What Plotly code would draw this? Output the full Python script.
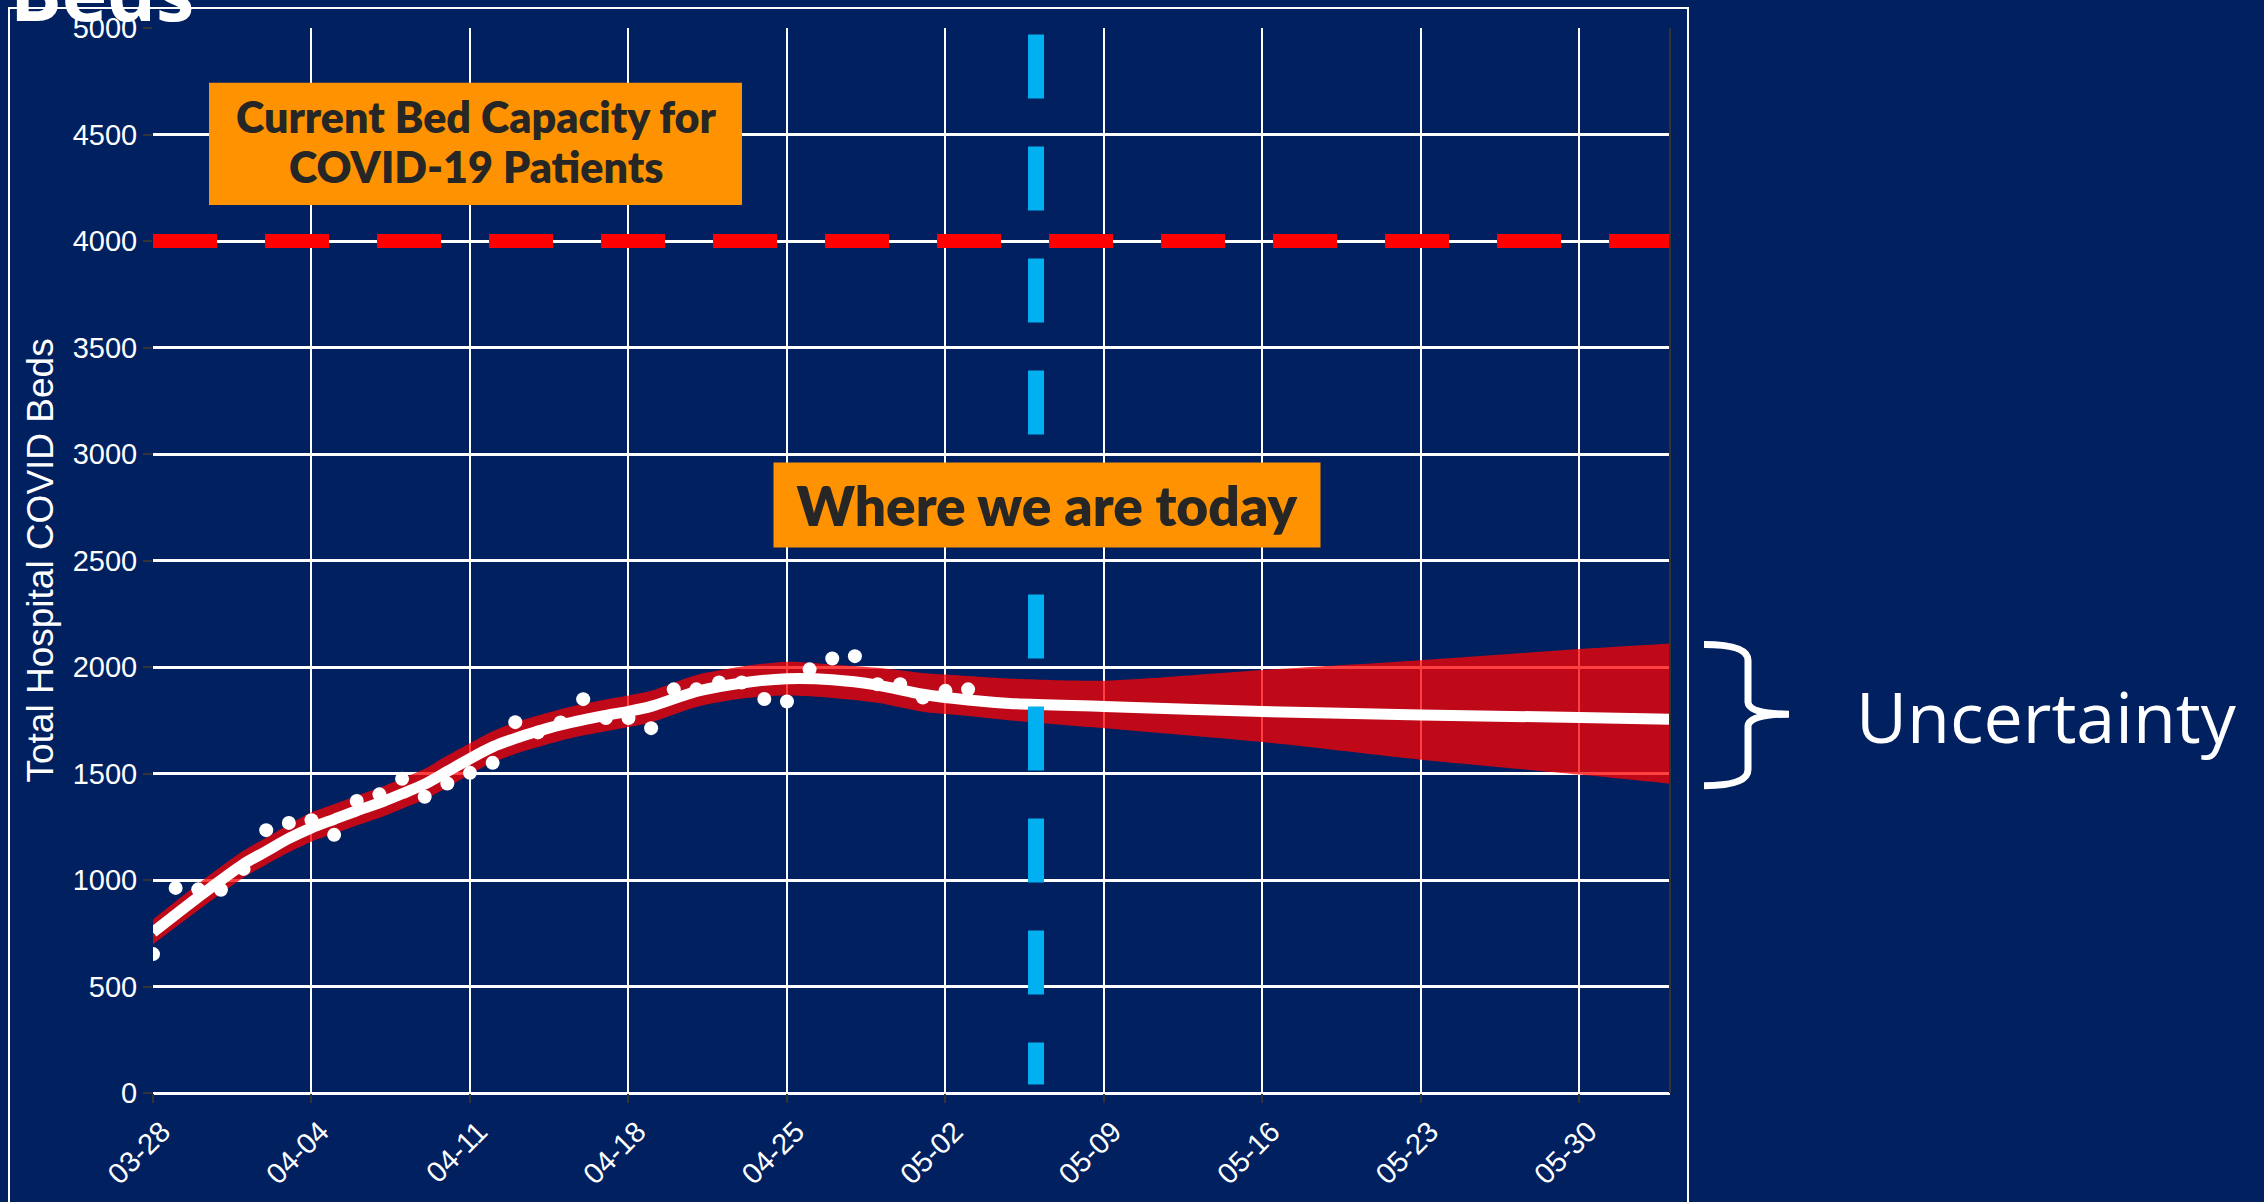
import plotly.graph_objects as go
import pandas as pd

# ---------------- data ----------------
obs_start = "2020-03-28"
obs_values = [652, 963, 956, 954, 1052, 1234, 1268, 1281, 1212, 1371,
              1402, 1475, 1391, 1453, 1503, 1550, 1741, 1693, 1740, 1849,
              1760, 1760, 1713, 1895, 1895, 1927, 1927, 1850, 1838, 1989,
              2040, 2051, 1919, 1919, 1857, 1888, 1895]
obs_dates = pd.date_range(obs_start, periods=len(obs_values), freq="D")

fit_dates = ["2020-03-28", "2020-03-30", "2020-04-01", "2020-04-02", "2020-04-03",
             "2020-04-04", "2020-04-05", "2020-04-06", "2020-04-07", "2020-04-08",
             "2020-04-09", "2020-04-10", "2020-04-11", "2020-04-12", "2020-04-13",
             "2020-04-14", "2020-04-15", "2020-04-16", "2020-04-17", "2020-04-18",
             "2020-04-19", "2020-04-21", "2020-04-23", "2020-04-25", "2020-04-27",
             "2020-04-29", "2020-05-01", "2020-05-03", "2020-05-05", "2020-05-09",
             "2020-05-16", "2020-05-23", "2020-05-30", "2020-06-03"]
fit_center = [755, 920, 1075, 1135, 1195, 1245, 1285, 1325, 1362, 1405,
              1450, 1510, 1570, 1625, 1665, 1698, 1728, 1752, 1773, 1792,
              1815, 1885, 1925, 1945, 1940, 1915, 1872, 1845, 1828, 1815,
              1791, 1775, 1763, 1755]
fit_upper = [815, 982, 1138, 1198, 1260, 1318, 1356, 1396, 1433, 1477,
             1522, 1584, 1642, 1698, 1740, 1772, 1802, 1826, 1847, 1866,
             1888, 1962, 2002, 2025, 2012, 1996, 1972, 1958, 1945, 1936,
             1986, 2032, 2084, 2110]
fit_lower = [698, 858, 1012, 1072, 1130, 1180, 1218, 1256, 1292, 1335,
             1378, 1436, 1497, 1552, 1592, 1624, 1654, 1678, 1698, 1718,
             1740, 1812, 1852, 1866, 1855, 1832, 1790, 1770, 1748, 1713,
             1648, 1565, 1495, 1452]

capacity = 4000
today = "2020-05-06"
x_range = ["2020-03-28", "2020-06-03"]
y_ticks = list(range(0, 5001, 500))

# ---------------- layout geometry ----------------
W, H = 2264, 1202
ML, MR, MT, MB = 153, 594, 26, 105
PW = W - ML - MR
PH = H - MT - MB
BG = "#002060"
ORANGE = "#FF9200"


def pxx(x):
    return (x - ML) / PW


def pxy(y):
    return (H - MB - y) / PH


fig = go.Figure()

fig.add_trace(go.Scatter(x=fit_dates, y=fit_upper, mode="lines",
                         line=dict(width=0, shape="spline", smoothing=0.8),
                         showlegend=False, hoverinfo="skip"))
fig.add_trace(go.Scatter(x=fit_dates, y=fit_lower, mode="lines",
                         line=dict(width=0, shape="spline", smoothing=0.8),
                         fill="tonexty", fillcolor="rgba(255,0,0,0.75)",
                         showlegend=False, hoverinfo="skip"))
fig.add_trace(go.Scatter(x=fit_dates, y=fit_center, mode="lines",
                         line=dict(width=11, color="white", shape="spline", smoothing=0.8),
                         showlegend=False, hoverinfo="skip"))
fig.add_trace(go.Scatter(x=obs_dates, y=obs_values, mode="markers",
                         marker=dict(size=14, color="white", line=dict(width=0)),
                         showlegend=False, hoverinfo="skip"))

shapes = []
# capacity line
shapes.append(dict(type="line", xref="paper", yref="y", x0=0, x1=1,
                   y0=capacity, y1=capacity, layer="above",
                   line=dict(color="#FF0000", width=14, dash="64px,48px")))
# today line
shapes.append(dict(type="line", xref="x", yref="y", x0=today, x1=today,
                   y0=4970, y1=40, layer="above",
                   line=dict(color="#00B0F0", width=16, dash="64px,48px")))
# right panel edge
shapes.append(dict(type="line", xref="paper", yref="paper", x0=1, x1=1,
                   y0=0, y1=1, layer="above",
                   line=dict(color="#333333", width=2)))
# slide frame
shapes.append(dict(type="rect", xref="paper", yref="paper",
                   x0=pxx(9), x1=pxx(1688), y0=pxy(1300), y1=pxy(6),
                   layer="below", line=dict(color="white", width=2)))
# capacity label box
shapes.append(dict(type="rect", xref="paper", yref="paper",
                   x0=pxx(209), x1=pxx(742), y0=pxy(204), y1=pxy(81),
                   layer="above", fillcolor=ORANGE, line=dict(width=0)))
# brace
pts = [("M", [(1704, 646)]), ("Q", [(1748, 646), (1748, 662)]),
       ("L", [(1748, 704)]), ("Q", [(1749, 716), (1789, 716)]),
       ("Q", [(1749, 716), (1748, 728)]), ("L", [(1748, 772)]),
       ("Q", [(1748, 788), (1704, 788)])]
path = " ".join(cmd + " " + " ".join(f"{pxx(a):.5f},{pxy(b):.5f}" for a, b in p)
                for cmd, p in pts)
shapes.append(dict(type="path", xref="paper", yref="paper", path=path,
                   line=dict(color="white", width=7)))

annotations = []
box_font = dict(family="Lato", size=43, color="#262626", weight=800)
annotations.append(dict(xref="paper", yref="paper", x=pxx(476), y=pxy(114.5),
                        xanchor="center", yanchor="middle", showarrow=False,
                        text="Current Bed Capacity for", font=box_font))
annotations.append(dict(xref="paper", yref="paper", x=pxx(476), y=pxy(165.5),
                        xanchor="center", yanchor="middle", showarrow=False,
                        text="COVID-19 Patients", font=box_font))
annotations.append(dict(xref="paper", yref="paper", x=pxx(1047), y=pxy(506),
                        xanchor="center", yanchor="middle", showarrow=False,
                        text="Where we are today",
                        font=dict(family="Lato", size=55, color="#262626", weight=800),
                        bgcolor=ORANGE, width=546, height=84, borderpad=0))
annotations.append(dict(xref="paper", yref="paper", x=pxx(2046), y=pxy(718),
                        xanchor="center", yanchor="middle", showarrow=False,
                        text="Uncertainty",
                        font=dict(family="Open Sans", size=70, color="white")))
annotations.append(dict(xref="paper", yref="paper", x=pxx(40), y=0.5,
                        xanchor="center", yanchor="middle", showarrow=False,
                        textangle=-90, text="Total Hospital COVID Beds",
                        font=dict(family="Liberation Sans, Arial", size=37, color="white")))
annotations.append(dict(xref="paper", yref="paper", x=pxx(8), y=pxy(44),
                        xanchor="left", yanchor="bottom", showarrow=False,
                        text="<b>Beds</b>",
                        font=dict(family="Open Sans", size=77, color="white")))

fig.update_layout(
    width=W, height=H,
    margin=dict(l=ML, r=MR, t=MT, b=MB, pad=0),
    paper_bgcolor=BG, plot_bgcolor=BG,
    shapes=shapes, annotations=annotations,
    showlegend=False,
    xaxis=dict(type="date", range=x_range, tick0="2020-03-28", dtick=7 * 86400000,
               tickformat="%m-%d", tickangle=-45, ticklabelshift=9,
               tickfont=dict(family="Liberation Sans, Arial", size=29, color="white"),
               showgrid=True, gridcolor="white", gridwidth=2,
               ticks="outside", ticklen=9, tickwidth=2, tickcolor="#333333",
               showline=False, zeroline=False, fixedrange=True),
    yaxis=dict(range=[0, 5000], tickvals=y_ticks,
               tickfont=dict(family="Liberation Sans, Arial", size=29, color="white"),
               showgrid=True, gridcolor="white", gridwidth=2.5,
               zeroline=True, zerolinecolor="white", zerolinewidth=2.5,
               ticks="outside", ticklen=9, tickwidth=2, tickcolor="#333333",
               showline=False, fixedrange=True),
)

fig.write_html("out.html",
               config={"displayModeBar": False},
               post_script="document.body.style.margin='0px';"
                           "document.body.style.overflow='hidden';"
                           "document.body.style.background='" + BG + "';")
